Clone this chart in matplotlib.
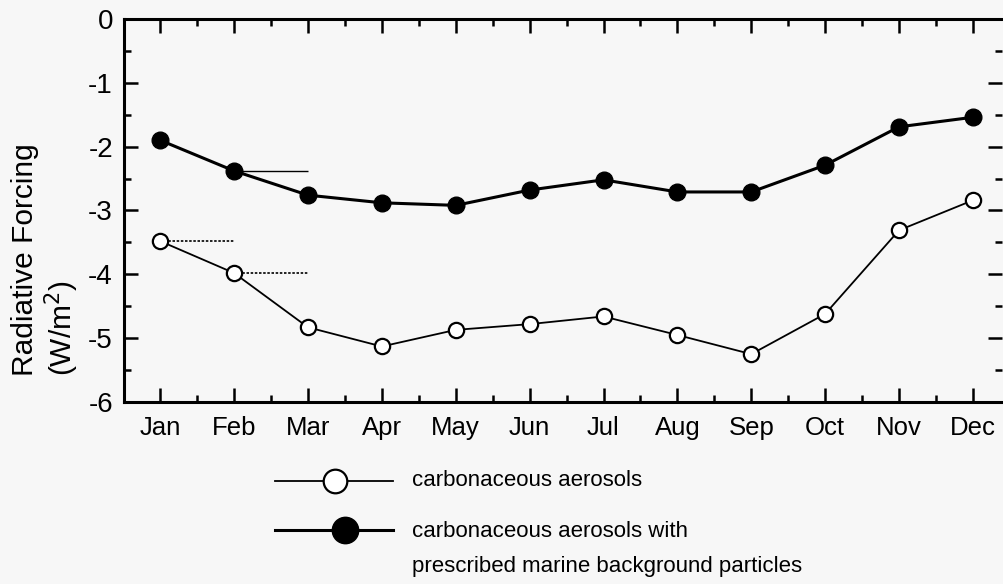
import matplotlib.pyplot as plt
import matplotlib.transforms as mtransforms
from matplotlib.lines import Line2D
from matplotlib.ticker import MultipleLocator

months = ['Jan', 'Feb', 'Mar', 'Apr', 'May', 'Jun', 'Jul', 'Aug', 'Sep', 'Oct', 'Nov', 'Dec']
carb = [-3.48, -3.98, -4.83, -5.13, -4.87, -4.78, -4.66, -4.95, -5.25, -4.62, -3.31, -2.84]
carb_marine = [-1.90, -2.38, -2.76, -2.88, -2.92, -2.68, -2.52, -2.71, -2.71, -2.29, -1.69, -1.54]
yticks = [0, -1, -2, -3, -4, -5, -6]

plt.rcParams['font.family'] = ['Liberation Sans', 'DejaVu Sans']
bg = '#f7f7f7'

fig = plt.figure(figsize=(10.04, 5.84), dpi=100, facecolor=bg)
ax = fig.add_axes([0.1235, 0.3116, 0.875, 0.656], facecolor=bg)

x = list(range(len(months)))

# reference marks for the first months
ax.hlines(carb_marine[1], 1, 2, color='black', lw=1.0)
ax.hlines(carb[0], 0, 1, color='black', lw=1.2, linestyles=(0, (1.5, 1)))
ax.hlines(carb[1], 1, 2, color='black', lw=1.2, linestyles=(0, (1.5, 1)))

ax.plot(x, carb, color='black', lw=1.3, marker='o', ms=11, mfc='white', mec='black', mew=1.6)
ax.plot(x, carb_marine, color='black', lw=2.2, marker='o', ms=12, mfc='black', mec='black')

ax.set_xlim(-0.49, 11.4)
ax.set_ylim(-6, 0)
ax.set_xticks(x)
ax.set_xticklabels(months, fontsize=18.5)
ax.xaxis.set_minor_locator(MultipleLocator(0.5))
ax.set_yticks(yticks)
ax.set_yticklabels([str(v) for v in yticks], fontsize=20)
ax.yaxis.set_minor_locator(MultipleLocator(0.5))

# y labels sit a little below their ticks in the original
shift = mtransforms.ScaledTranslation(0, -5 / 100, fig.dpi_scale_trans)
for lbl in ax.get_yticklabels():
    lbl.set_transform(lbl.get_transform() + shift)

ax.tick_params(which='both', direction='in', top=True, right=True, width=1.8)
ax.tick_params(which='major', length=10)
ax.tick_params(which='minor', length=5)
ax.tick_params(axis='x', pad=10)
ax.tick_params(axis='y', pad=8)
for s in ax.spines.values():
    s.set_linewidth(2.2)
ax.spines['right'].set_visible(False)

fig.text(46 / 1004, 1 - 376 / 584, 'Radiative Forcing\n(W/m$^2$)', rotation=90, fontsize=21.5,
         ha='center', va='bottom', multialignment='left', linespacing=1.15)

# legend
fy1 = 1 - 481 / 584
fy2 = 1 - 530 / 584
fig.add_artist(Line2D([275 / 1004, 393 / 1004], [fy1, fy1], color='black', lw=1.3))
fig.add_artist(Line2D([335 / 1004], [fy1], marker='o', ms=17, mfc='white', mec='black', mew=1.6))
fig.add_artist(Line2D([275 / 1004, 393 / 1004], [fy2, fy2], color='black', lw=2.2))
fig.add_artist(Line2D([345 / 1004], [fy2], marker='o', ms=19, mfc='black', mec='black'))
fig.text(412 / 1004, fy1, 'carbonaceous aerosols', fontsize=16, va='center')
fig.text(412 / 1004, fy2 + 0.016, 'carbonaceous aerosols with\nprescribed marine background particles',
         fontsize=16, va='top', linespacing=1.88)

fig.savefig('out.png', dpi=100, facecolor=bg)
